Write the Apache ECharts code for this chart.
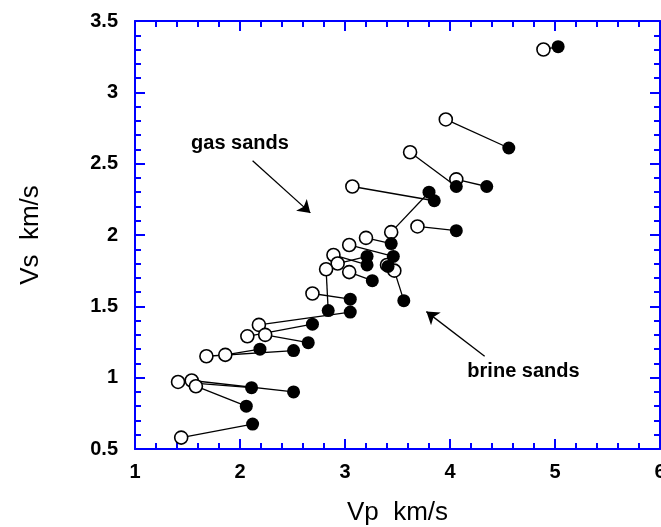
<!DOCTYPE html>
<html>
<head>
<meta charset="utf-8">
<style>
  html, body { margin: 0; background: #fff; }
  #chart { width: 661px; height: 527px; }
</style>
<script src="https://cdn.jsdelivr.net/npm/echarts@6/dist/echarts.min.js"></script>
</head>
<body>
<div id="chart"></div>
<script>
// gas sands (open circles), index i pairs with brine point i
const gasVp = [4.89, 3.96, 3.62, 4.06, 3.07, 3.44, 3.69, 3.20, 3.04, 2.89, 2.93, 2.82, 3.04,
               3.40, 3.47, 2.69, 2.18, 2.07, 2.24, 1.68, 1.86, 1.41, 1.54, 1.58, 1.44];
const gasVs = [3.30, 2.81, 2.58, 2.39, 2.34, 2.02, 2.06, 1.98, 1.93, 1.86, 1.80, 1.76, 1.74,
               1.79, 1.75, 1.59, 1.37, 1.29, 1.30, 1.15, 1.16, 0.97, 0.98, 0.94, 0.58];

// brine sands (filled circles)
const brineVp = [5.03, 4.56, 4.06, 4.35, 3.85, 3.80, 4.06, 3.44, 3.46, 3.21, 3.21, 2.84, 3.26,
                 3.41, 3.56, 3.05, 3.05, 2.69, 2.65, 2.51, 2.19, 2.11, 2.51, 2.06, 2.12];
const brineVs = [3.32, 2.61, 2.34, 2.34, 2.24, 2.30, 2.03, 1.94, 1.85, 1.79, 1.85, 1.47, 1.68,
                 1.78, 1.54, 1.55, 1.46, 1.375, 1.245, 1.19, 1.20, 0.93, 0.90, 0.80, 0.675];

// annotations in data units
const noteLabels = ['gas sands', 'brine sands'];
const noteTextPos = [[2.0, 2.64], [4.70, 1.04]];
const noteArrowFrom = [[2.12, 2.52], [4.33, 1.15]];
const noteArrowTo = [[2.67, 2.155], [3.775, 1.463]];

const fontFamily = '"Liberation Sans", Arial, Helvetica, sans-serif';
const axisBlue = '#0000ff';

const chart = echarts.init(document.getElementById('chart'));

const frameAxis = (extra) => Object.assign({
    type: 'value',
    axisLine: { show: true, onZero: false, lineStyle: { color: axisBlue, width: 2 } },
    axisTick: { show: true, inside: true, length: 10, lineStyle: { color: axisBlue, width: 2 } },
    minorTick: { show: true, splitNumber: 5, length: 6, lineStyle: { color: axisBlue, width: 2 } },
    splitLine: { show: false },
    minorSplitLine: { show: false },
}, extra);

const tickLabel = (margin) => ({
    show: true,
    margin: margin,
    color: '#000',
    fontSize: 20,
    fontWeight: 'bold',
    fontFamily: fontFamily,
});

chart.setOption({
    animation: false,
    backgroundColor: '#fff',
    grid: { left: 135, right: 1, top: 21, bottom: 78, outerBoundsMode: 'none' },
    xAxis: [
        frameAxis({
            min: 1, max: 6, interval: 1, position: 'bottom',
            axisLabel: tickLabel(13),
            name: 'Vp  km/s',
            nameLocation: 'middle',
            nameGap: 51,
            nameTextStyle: { color: '#000', fontSize: 26, fontFamily: fontFamily },
        }),
        frameAxis({ min: 1, max: 6, interval: 1, position: 'top', axisLabel: { show: false } }),
    ],
    yAxis: [
        frameAxis({
            min: 0.5, max: 3.5, interval: 0.5, position: 'left',
            axisLabel: tickLabel(17),
            name: 'Vs  km/s',
            nameLocation: 'middle',
            nameGap: 91,
            nameTextStyle: { color: '#000', fontSize: 26, fontFamily: fontFamily },
        }),
        frameAxis({ min: 0.5, max: 3.5, interval: 0.5, position: 'right', axisLabel: { show: false } }),
    ],
    series: [
        {
            type: 'lines',
            coordinateSystem: 'cartesian2d',
            xAxisIndex: 0,
            yAxisIndex: 0,
            z: 1,
            silent: true,
            lineStyle: { color: '#000', width: 1.3, opacity: 1 },
            data: gasVp.map((_, i) => ({
                coords: [[gasVp[i], gasVs[i]], [brineVp[i], brineVs[i]]],
            })),
        },
        {
            name: 'gas sands',
            type: 'scatter',
            z: 2,
            symbol: 'circle',
            symbolSize: 13,
            itemStyle: { color: '#fff', borderColor: '#000', borderWidth: 1.6, opacity: 1 },
            data: gasVp.map((v, i) => [v, gasVs[i]]),
            markLine: {
                silent: true,
                symbol: ['none', 'arrow'],
                symbolSize: 12,
                label: { show: false },
                itemStyle: { color: '#000' },
                lineStyle: { color: '#000', width: 1.3, type: 'solid' },
                data: noteArrowFrom.map((from, i) => [{ coord: from }, { coord: noteArrowTo[i] }]),
            },
        },
        {
            name: 'brine sands',
            type: 'scatter',
            z: 3,
            symbol: 'circle',
            symbolSize: 13,
            itemStyle: { color: '#000', opacity: 1 },
            data: brineVp.map((v, i) => [v, brineVs[i]]),
        },
    ],
});

// annotation text, placed from data units
chart.setOption({
    graphic: noteLabels.map((text, i) => {
        const p = chart.convertToPixel({ xAxisIndex: 0, yAxisIndex: 0 }, noteTextPos[i]);
        return {
            type: 'text',
            x: p[0],
            y: p[1],
            z: 10,
            style: {
                text: text,
                fill: '#000',
                font: 'bold 20px ' + fontFamily,
                textAlign: 'center',
                textVerticalAlign: 'middle',
            },
        };
    }),
});

window.addEventListener('resize', chart.resize);
</script>
</body>
</html>
